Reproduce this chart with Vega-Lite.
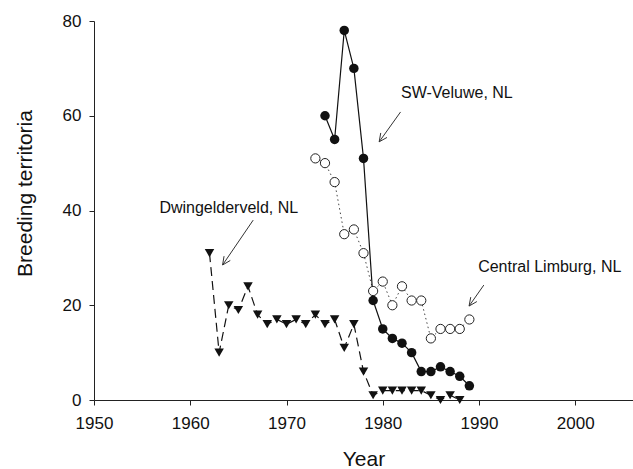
{
  "$schema": "https://vega.github.io/schema/vega-lite/v6.json",
  "autosize": {"type": "none"},
  "padding": {"left": 94, "top": 21, "right": 0, "bottom": 69},
  "width": 539,
  "height": 379,
  "background": "white",
  "config": {
    "view": {"stroke": null},
    "font": "Liberation Sans",
    "axis": {
      "grid": false,
      "labelFlush": false,
      "domainColor": "#222",
      "tickColor": "#222",
      "tickSize": 5,
      "labelColor": "#111",
      "titleColor": "#111",
      "labelFont": "Liberation Sans",
      "titleFont": "Liberation Sans",
      "labelFontSize": 17,
      "titleFontSize": 21,
      "titleFontWeight": "normal"
    }
  },
  "datasets": {
    "pts": [
      {"series": "SW-Veluwe", "year": 1974, "value": 60},
      {"series": "SW-Veluwe", "year": 1975, "value": 55},
      {"series": "SW-Veluwe", "year": 1976, "value": 78},
      {"series": "SW-Veluwe", "year": 1977, "value": 70},
      {"series": "SW-Veluwe", "year": 1978, "value": 51},
      {"series": "SW-Veluwe", "year": 1979, "value": 21},
      {"series": "SW-Veluwe", "year": 1980, "value": 15},
      {"series": "SW-Veluwe", "year": 1981, "value": 13},
      {"series": "SW-Veluwe", "year": 1982, "value": 12},
      {"series": "SW-Veluwe", "year": 1983, "value": 10},
      {"series": "SW-Veluwe", "year": 1984, "value": 6},
      {"series": "SW-Veluwe", "year": 1985, "value": 6},
      {"series": "SW-Veluwe", "year": 1986, "value": 7},
      {"series": "SW-Veluwe", "year": 1987, "value": 6},
      {"series": "SW-Veluwe", "year": 1988, "value": 5},
      {"series": "SW-Veluwe", "year": 1989, "value": 3},
      {"series": "Central Limburg", "year": 1973, "value": 51},
      {"series": "Central Limburg", "year": 1974, "value": 50},
      {"series": "Central Limburg", "year": 1975, "value": 46},
      {"series": "Central Limburg", "year": 1976, "value": 35},
      {"series": "Central Limburg", "year": 1977, "value": 36},
      {"series": "Central Limburg", "year": 1978, "value": 31},
      {"series": "Central Limburg", "year": 1979, "value": 23},
      {"series": "Central Limburg", "year": 1980, "value": 25},
      {"series": "Central Limburg", "year": 1981, "value": 20},
      {"series": "Central Limburg", "year": 1982, "value": 24},
      {"series": "Central Limburg", "year": 1983, "value": 21},
      {"series": "Central Limburg", "year": 1984, "value": 21},
      {"series": "Central Limburg", "year": 1985, "value": 13},
      {"series": "Central Limburg", "year": 1986, "value": 15},
      {"series": "Central Limburg", "year": 1987, "value": 15},
      {"series": "Central Limburg", "year": 1988, "value": 15},
      {"series": "Central Limburg", "year": 1989, "value": 17},
      {"series": "Dwingelderveld", "year": 1962, "value": 31},
      {"series": "Dwingelderveld", "year": 1963, "value": 10},
      {"series": "Dwingelderveld", "year": 1964, "value": 20},
      {"series": "Dwingelderveld", "year": 1965, "value": 19},
      {"series": "Dwingelderveld", "year": 1966, "value": 24},
      {"series": "Dwingelderveld", "year": 1967, "value": 18},
      {"series": "Dwingelderveld", "year": 1968, "value": 16},
      {"series": "Dwingelderveld", "year": 1969, "value": 17},
      {"series": "Dwingelderveld", "year": 1970, "value": 16},
      {"series": "Dwingelderveld", "year": 1971, "value": 17},
      {"series": "Dwingelderveld", "year": 1972, "value": 16},
      {"series": "Dwingelderveld", "year": 1973, "value": 18},
      {"series": "Dwingelderveld", "year": 1974, "value": 16},
      {"series": "Dwingelderveld", "year": 1975, "value": 17},
      {"series": "Dwingelderveld", "year": 1976, "value": 11},
      {"series": "Dwingelderveld", "year": 1977, "value": 16},
      {"series": "Dwingelderveld", "year": 1978, "value": 6},
      {"series": "Dwingelderveld", "year": 1979, "value": 1},
      {"series": "Dwingelderveld", "year": 1980, "value": 2},
      {"series": "Dwingelderveld", "year": 1981, "value": 2},
      {"series": "Dwingelderveld", "year": 1982, "value": 2},
      {"series": "Dwingelderveld", "year": 1983, "value": 2},
      {"series": "Dwingelderveld", "year": 1984, "value": 2},
      {"series": "Dwingelderveld", "year": 1985, "value": 1},
      {"series": "Dwingelderveld", "year": 1986, "value": 0},
      {"series": "Dwingelderveld", "year": 1987, "value": 1},
      {"series": "Dwingelderveld", "year": 1988, "value": 0}
    ],
    "labels": [
      {"label": "SW-Veluwe, NL", "year": 1987.7, "value": 64.8},
      {"label": "Dwingelderveld, NL", "year": 1964.0, "value": 40.6},
      {"label": "Central Limburg, NL", "year": 1997.35, "value": 28.1}
    ],
    "arrows": [
      {"seg": "sw-shaft", "o": 1, "year": 1981.85, "value": 60.8},
      {"seg": "sw-shaft", "o": 2, "year": 1979.63, "value": 54.5},
      {"seg": "sw-head", "o": 1, "year": 1980.44, "value": 55.42},
      {"seg": "sw-head", "o": 2, "year": 1979.63, "value": 54.5},
      {"seg": "sw-head", "o": 3, "year": 1979.79, "value": 56.37},
      {"seg": "dw-shaft", "o": 1, "year": 1966.54, "value": 37.97},
      {"seg": "dw-shaft", "o": 2, "year": 1963.36, "value": 28.5},
      {"seg": "dw-head", "o": 1, "year": 1964.16, "value": 29.45},
      {"seg": "dw-head", "o": 2, "year": 1963.36, "value": 28.5},
      {"seg": "dw-head", "o": 3, "year": 1963.51, "value": 30.36},
      {"seg": "cl-shaft", "o": 1, "year": 1990.5, "value": 24.26},
      {"seg": "cl-shaft", "o": 2, "year": 1988.97, "value": 19.83},
      {"seg": "cl-head", "o": 1, "year": 1989.78, "value": 20.78},
      {"seg": "cl-head", "o": 2, "year": 1988.97, "value": 19.83},
      {"seg": "cl-head", "o": 3, "year": 1989.14, "value": 21.71}
    ]
  },
  "encoding": {
    "x": {
      "field": "year", "type": "quantitative",
      "scale": {"domain": [1950, 2006], "nice": false, "zero": false},
      "axis": {"title": "Year", "values": [1950, 1960, 1970, 1980, 1990, 2000], "format": "d", "labelPadding": 10, "titlePadding": 17}
    },
    "y": {
      "field": "value", "type": "quantitative",
      "scale": {"domain": [0, 80], "nice": false},
      "axis": {"title": "Breeding territoria", "values": [0, 20, 40, 60, 80], "labelPadding": 8, "titlePadding": 27, "titleY": 172}
    }
  },
  "layer": [
    {
      "data": {"name": "pts"},
      "transform": [{"filter": "datum.series === 'Dwingelderveld'"}],
      "mark": {"type": "line", "color": "#111", "strokeWidth": 1.2, "strokeDash": [9, 5]}
    },
    {
      "data": {"name": "pts"},
      "transform": [{"filter": "datum.series === 'Central Limburg'"}],
      "mark": {"type": "line", "color": "#444", "strokeWidth": 1, "strokeDash": [1.5, 3]}
    },
    {
      "data": {"name": "pts"},
      "transform": [{"filter": "datum.series === 'SW-Veluwe'"}],
      "mark": {"type": "line", "color": "#111", "strokeWidth": 1.2}
    },
    {
      "data": {"name": "pts"},
      "transform": [{"filter": "datum.series === 'Dwingelderveld'"}],
      "mark": {"type": "point", "shape": "triangle-down", "filled": true, "color": "#111", "size": 90, "opacity": 1}
    },
    {
      "data": {"name": "pts"},
      "transform": [{"filter": "datum.series === 'Central Limburg'"}],
      "mark": {"type": "point", "shape": "circle", "filled": true, "fill": "white", "stroke": "#222", "strokeWidth": 1, "size": 85, "opacity": 1}
    },
    {
      "data": {"name": "pts"},
      "transform": [{"filter": "datum.series === 'SW-Veluwe'"}],
      "mark": {"type": "point", "shape": "circle", "filled": true, "color": "#111", "size": 90, "opacity": 1}
    },
    {
      "data": {"name": "arrows"},
      "mark": {"type": "line", "color": "#333", "strokeWidth": 1},
      "encoding": {"detail": {"field": "seg"}, "order": {"field": "o"}}
    },
    {
      "data": {"name": "labels"},
      "mark": {"type": "text", "font": "Liberation Sans", "fontSize": 16, "color": "#111", "align": "center", "baseline": "middle"},
      "encoding": {"text": {"field": "label"}}
    }
  ]
}
